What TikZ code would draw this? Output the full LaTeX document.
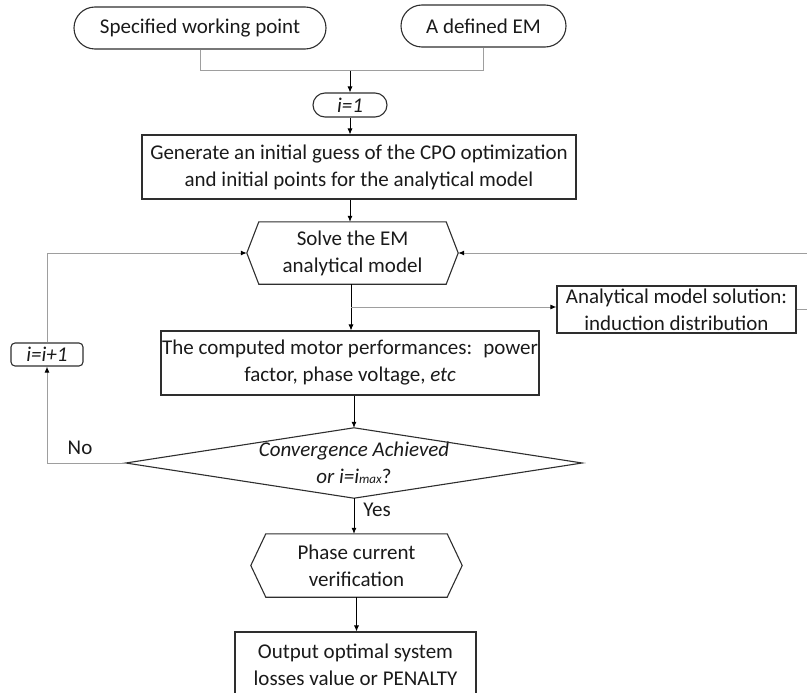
\documentclass[tikz,border=0pt]{standalone}
\usepackage{fontspec}
\setmainfont{Carlito}
\usetikzlibrary{shapes.misc,arrows.meta}

\begin{document}
\begin{tikzpicture}[x=1pt,y=-1pt,
		txt/.style={font=\fontsize{21}{27}\selectfont,text=textdark,align=center,inner sep=0pt},
		term/.style={txt,rounded rectangle,draw=boxline,line width=1.1pt},
		proc/.style={txt,rectangle,draw=boxline,line width=1.1pt},
		bare/.style={txt,rectangle,draw=none},
		flow/.style={line width=0.8pt,draw=black,-{Latex[length=6pt,width=5pt]}},
		back/.style={line width=1pt,draw=loopgrey},
		backarr/.style={back,-{Latex[length=6pt,width=5pt,color=black]}},
		outline/.style={line width=1.1pt,draw=boxline}]
		\definecolor{textdark}{HTML}{1A1A1A}
		\definecolor{boxline}{HTML}{2E2E2E}
		\definecolor{loopgrey}{HTML}{9E9E9E}
		
		\useasboundingbox (0,0) rectangle (807,693);
		
		% inputs
		\node[term,minimum width=252pt,minimum height=42pt] (spec) at (200,28) {Specified working point};
		\node[term,minimum width=165pt,minimum height=42pt] (emdef) at (483.5,26) {A defined EM};
		\coordinate (join) at (350,71);
		\node[term,minimum width=74pt,minimum height=24pt] (istart) at (350,105) {\textit{i=1}};
		
		\draw[back] (spec.south) |- (join);
		\draw[back] (emdef.south) |- (join);
		\draw[flow] (join) -- (istart.north);
		
		% main chain
		\node[proc,minimum width=434pt,minimum height=64pt] (guess) at (359,167) {Generate an initial guess of the CPO optimization\\and initial points for the analytical model};
		\node[bare,minimum width=211pt,minimum height=62pt] (solve) at (352.5,253) {Solve the EM\\analytical model};
		\node[proc,minimum width=378pt,minimum height=64pt] (perf) at (350,363) {The computed motor performances:~ power\\factor, phase voltage, \textit{etc}};
		\node[bare,minimum width=456pt,minimum height=70pt] (conv) at (354,463) {\textit{Convergence Achieved}\\\textit{or i=i}{\fontsize{13}{13}\selectfont\textit{max}}?};
		\node[bare,minimum width=211pt,minimum height=63pt] (phase) at (356.5,565.5) {Phase current\\verification};
		\node[proc,minimum width=241pt,minimum height=66pt] (result) at (355.5,665) {Output optimal system\\losses value or PENALTY};
		
		\draw[outline] (solve.west) -- ([xshift=12pt]solve.north west) -- ([xshift=-12pt]solve.north east) -- (solve.east) -- ([xshift=-12pt]solve.south east) -- ([xshift=12pt]solve.south west) -- cycle;
		\draw[outline] (phase.west) -- ([xshift=15pt]phase.north west) -- ([xshift=-15pt]phase.north east) -- (phase.east) -- ([xshift=-15pt]phase.south east) -- ([xshift=15pt]phase.south west) -- cycle;
		\draw[outline] (conv.west) -- (conv.north) -- (conv.east) -- (conv.south) -- cycle;
		
		% side branch and loops
		\node[proc,minimum width=239pt,minimum height=47pt] (field) at (676.5,309.5) {Analytical model solution:\\induction distribution};
		\node[proc,rounded corners=4pt,minimum width=72pt,minimum height=23pt] (iplus) at (47,354.5) {\textit{i=i+1}};
		\coordinate (split) at (351,307);
		\coordinate (edgetop) at (807,253);
		\coordinate (edgemid) at (807,309.5);
		
		\draw[flow] (istart.south) -- (istart.south |- guess.north);
		\draw[flow] (guess.south -| istart.south) -- (solve.north -| istart.south);
		\draw[flow] (solve.south -| split) -- (perf.north -| split);
		\draw[flow] (perf.south -| conv.north) -- (conv.north);
		\draw[flow] (conv.south) -- (conv.south |- phase.north);
		\draw[flow] (phase.south) -- (phase.south |- result.north);
		
		\draw[backarr] (split) -- (split -| field.west);
		\draw[back] (field.east) -- (edgemid);
		\draw[backarr] (edgetop) -- (solve.east);
		\draw[backarr] (conv.west) -| (iplus.south);
		\draw[backarr] (iplus.north) |- (solve.west);
		
		% labels
		\node[txt] (nolabel) at (80,448) {No};
		\node[txt] (yeslabel) at (377,510) {Yes};
\end{tikzpicture}
\end{document}
